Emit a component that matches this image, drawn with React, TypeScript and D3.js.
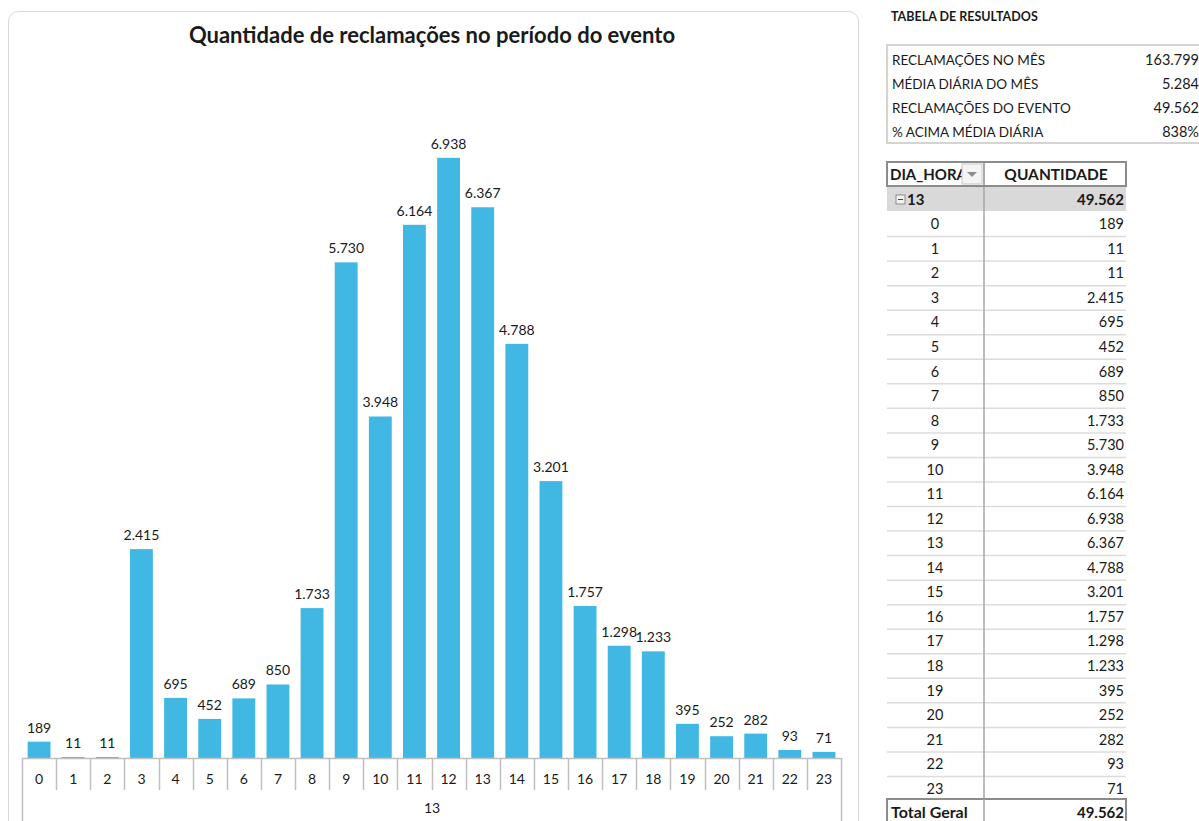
import React, { useEffect, useRef } from 'react';
import * as d3 from 'd3';

const hours = d3.range(0, 24).map(String);
const quantities = [189, 11, 11, 2415, 695, 452, 689, 850, 1733, 5730, 3948, 6164, 6938, 6367, 4788, 3201, 1757, 1298, 1233, 395, 252, 282, 93, 71];
const dayLabel = '13';
const chartTitle = 'Quantidade de reclamações no período do evento';
const summaryLabels = ['RECLAMAÇÕES NO MÊS', 'MÉDIA DIÁRIA DO MÊS', 'RECLAMAÇÕES DO EVENTO', '% ACIMA MÉDIA DIÁRIA'];
const summaryValues = ['163.799', '5.284', '49.562', '838%'];
const totalLabel = '49.562';

const fmt = (v: number) => d3.format(',')(v).replace(/,/g, '.');

const FONT = 'Lato, "Open Sans", sans-serif';

const App: React.FC = () => {
  const svgRef = useRef<SVGSVGElement>(null);

  useEffect(() => {
    if (!svgRef.current) return;
    const svg = d3.select(svgRef.current);
    svg.selectAll('*').remove();

    // ---- chart card
    svg.append('rect')
      .attr('x', 8.5).attr('y', 11.5).attr('width', 850).attr('height', 830)
      .attr('rx', 10)
      .style('fill', '#fff').style('stroke', '#d9d9d9').style('stroke-width', 1);

    svg.append('text')
      .attr('x', 432).attr('y', 43)
      .style('text-anchor', 'middle').style('font-family', FONT)
      .style('font-weight', 'bold').style('font-size', '22px').style('fill', '#1a1a1a')
      .text(chartTitle);

    const x = d3.scaleBand().domain(hours).range([22, 841]).paddingInner(0.33).paddingOuter(0.165);
    const xOuter = d3.scaleBand().domain(hours).range([22, 841]);
    const y = d3.scaleLinear().domain([0, 8000]).range([758, 66]);

    const g = svg.append('g');

    g.selectAll('rect.bar').data(quantities).enter().append('rect')
      .attr('class', 'bar')
      .attr('x', (_, i) => x(hours[i])!)
      .attr('y', d => y(d))
      .attr('width', x.bandwidth())
      .attr('height', d => y(0) - y(d))
      .style('fill', '#41b8e4');

    g.selectAll('text.lbl').data(quantities).enter().append('text')
      .attr('class', 'lbl')
      .attr('x', (_, i) => x(hours[i])! + x.bandwidth() / 2)
      .attr('y', d => y(d) - 9)
      .style('text-anchor', 'middle').style('font-family', FONT)
      .style('font-size', '14px').style('fill', '#1a1a1a')
      .text(d => fmt(d));

    // axis lines
    const axisColor = '#bfbfbf';
    g.append('line').attr('x1', 22).attr('x2', 841).attr('y1', 758.5).attr('y2', 758.5)
      .style('stroke', axisColor).style('stroke-width', 1.5);
    hours.forEach((h, i) => {
      if (i === 0) return;
      const xx = Math.round(xOuter(h)!) + 0.5;
      g.append('line').attr('x1', xx).attr('x2', xx).attr('y1', 758).attr('y2', 790)
        .style('stroke', axisColor).style('stroke-width', 1.5);
    });
    [22, 841].forEach(xx => {
      g.append('line').attr('x1', xx + 0.5).attr('x2', xx + 0.5).attr('y1', 758).attr('y2', 821)
        .style('stroke', axisColor).style('stroke-width', 1.5);
    });
    g.selectAll('text.cat').data(hours).enter().append('text')
      .attr('class', 'cat')
      .attr('x', h => xOuter(h)! + xOuter.bandwidth() / 2)
      .attr('y', 784)
      .style('text-anchor', 'middle').style('font-family', FONT)
      .style('font-size', '14px').style('fill', '#1a1a1a')
      .text(h => h);
    g.append('text').attr('x', 432).attr('y', 813)
      .style('text-anchor', 'middle').style('font-family', FONT)
      .style('font-size', '14px').style('fill', '#1a1a1a')
      .text(dayLabel);

    // ---- results table
    svg.append('text').attr('x', 891).attr('y', 21)
      .style('font-family', FONT).style('font-weight', 'bold')
      .style('font-size', '12.5px').style('fill', '#1a1a1a')
      .text('TABELA DE RESULTADOS');

    svg.append('rect').attr('x', 887).attr('y', 45).attr('width', 320).attr('height', 98)
      .style('fill', 'none').style('stroke', '#d4d4d4').style('stroke-width', 2);

    const sy = d3.scaleBand().domain(summaryLabels).range([48, 144]);
    summaryLabels.forEach((l, i) => {
      const cy = sy(l)! + sy.bandwidth() / 2;
      svg.append('text').attr('x', 892).attr('y', cy + 5)
        .style('font-family', FONT).style('font-size', '13.5px').style('fill', '#1a1a1a')
        .text(l);
      svg.append('text').attr('x', 1199).attr('y', cy + 5)
        .style('text-anchor', 'end').style('font-family', FONT)
        .style('font-size', '14.5px').style('fill', '#1a1a1a')
        .text(summaryValues[i]);
    });

    // ---- pivot table
    const px0 = 887, px1 = 1126, pdiv = 984;
    const ry = d3.scaleBand().domain(hours).range([212, 801]);
    const pt = svg.append('g');

    // group row
    pt.append('rect').attr('x', px0).attr('y', 187).attr('width', px1 - px0).attr('height', 24)
      .style('fill', '#d9d9d9');
    pt.append('rect').attr('x', 896).attr('y', 195).attr('width', 9).attr('height', 9)
      .style('fill', '#f2f2f2').style('stroke', '#8c8c8c').style('stroke-width', 1);
    pt.append('line').attr('x1', 898).attr('x2', 903).attr('y1', 199.5).attr('y2', 199.5)
      .style('stroke', '#444').style('stroke-width', 1);
    pt.append('text').attr('x', 907).attr('y', 205)
      .style('font-family', FONT).style('font-weight', 'bold').style('font-size', '15px').style('fill', '#1a1a1a')
      .text(dayLabel);
    pt.append('text').attr('x', 1124).attr('y', 205)
      .style('text-anchor', 'end').style('font-family', FONT).style('font-weight', 'bold')
      .style('font-size', '15px').style('fill', '#1a1a1a')
      .text(totalLabel);

    // rows
    hours.forEach((h, i) => {
      const top = ry(h)!;
      const cy = top + ry.bandwidth() / 2;
      pt.append('line').attr('x1', px0).attr('x2', px1).attr('y1', top + ry.bandwidth()).attr('y2', top + ry.bandwidth())
        .style('stroke', '#dcdcdc').style('stroke-width', 1.5);
      pt.append('text').attr('x', 935).attr('y', cy + 5)
        .style('text-anchor', 'middle').style('font-family', FONT)
        .style('font-size', '14.5px').style('fill', '#1a1a1a')
        .text(h);
      pt.append('text').attr('x', 1124).attr('y', cy + 5)
        .style('text-anchor', 'end').style('font-family', FONT)
        .style('font-size', '14.5px').style('fill', '#1a1a1a')
        .text(fmt(quantities[i]));
    });

    // column divider
    pt.append('line').attr('x1', pdiv).attr('x2', pdiv).attr('y1', 162).attr('y2', 821)
      .style('stroke', '#a6a6a6').style('stroke-width', 1.5);

    // header
    pt.append('rect').attr('x', px0).attr('y', 162).attr('width', px1 - px0).attr('height', 24)
      .style('fill', '#fff').style('stroke', '#8c8c8c').style('stroke-width', 2);
    pt.append('line').attr('x1', pdiv).attr('x2', pdiv).attr('y1', 162).attr('y2', 186)
      .style('stroke', '#8c8c8c').style('stroke-width', 1.5);
    pt.append('text').attr('x', 890).attr('y', 180)
      .style('font-family', FONT).style('font-weight', 'bold').style('font-size', '15px').style('fill', '#1a1a1a')
      .text('DIA_HORA');
    pt.append('rect').attr('x', 962).attr('y', 164).attr('width', 20).attr('height', 20)
      .style('fill', '#f4f4f4').style('stroke', '#c8c8c8').style('stroke-width', 1);
    pt.append('path').attr('d', 'M967,172 L977,172 L972,177 Z').style('fill', '#8c8c8c');
    pt.append('text').attr('x', 1056).attr('y', 180)
      .style('text-anchor', 'middle').style('font-family', FONT).style('font-weight', 'bold')
      .style('font-size', '15.5px').style('fill', '#1a1a1a')
      .text('QUANTIDADE');

    // total row
    pt.append('rect').attr('x', px0).attr('y', 799).attr('width', px1 - px0).attr('height', 30)
      .style('fill', '#fff').style('stroke', '#8c8c8c').style('stroke-width', 2);
    pt.append('line').attr('x1', pdiv).attr('x2', pdiv).attr('y1', 799).attr('y2', 821)
      .style('stroke', '#a6a6a6').style('stroke-width', 1.5);
    pt.append('text').attr('x', 891).attr('y', 818)
      .style('font-family', FONT).style('font-weight', 'bold').style('font-size', '16px').style('fill', '#1a1a1a')
      .text('Total Geral');
    pt.append('text').attr('x', 1124).attr('y', 818)
      .style('text-anchor', 'end').style('font-family', FONT).style('font-weight', 'bold')
      .style('font-size', '15px').style('fill', '#1a1a1a')
      .text(totalLabel);
  }, []);

  return (
    <svg
      ref={svgRef}
      width={1199}
      height={821}
      style={{ position: 'absolute', left: 0, top: 0, background: '#fff' }}
    />
  );
};

export default App;
